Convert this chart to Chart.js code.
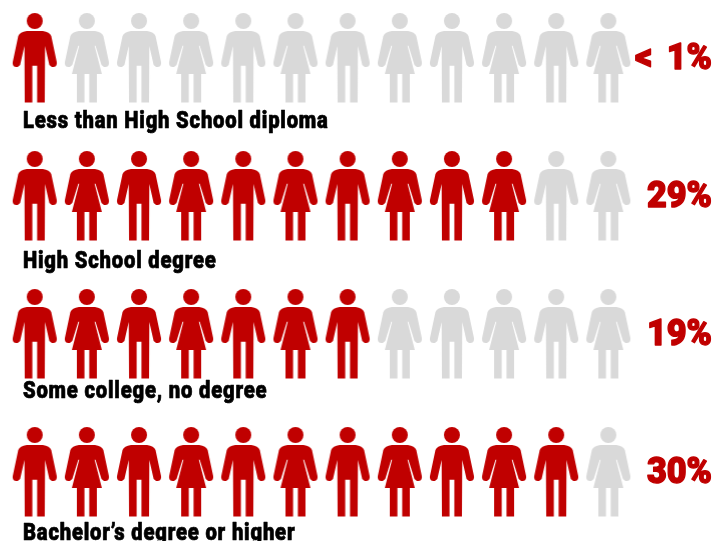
<!DOCTYPE html>
<html>
<head>
<meta charset="utf-8">
<style>
  html, body { margin: 0; padding: 0; background: #fff; }
  canvas { display: block; }
</style>
<script src="https://cdn.jsdelivr.net/npm/chart.js@4"></script>
</head>
<body>
<canvas id="chart" width="728" height="541"></canvas>
<script>
const categories = ['Less than High School diploma', 'High School degree', 'Some college, no degree', "Bachelor\u2019s degree or higher"]
const shares     = ['< 1%', '29%', '19%', '30%']
const filled     = [1, 10, 7, 11]
const perRow     = 12

const RED  = '#c00000'
const GREY = '#d9d9d9'

// label baselines below each row of people, they are not evenly spaced
const labelShift = [69, 71, 63, 67]

// one person, drawn once per colour and used as a point style
function person(color, woman) {
    const c = document.createElement('canvas')
    c.width = 48
    c.height = 92
    const g = c.getContext('2d')
    g.translate(24, 0)
    g.fillStyle = color
    g.beginPath()
    g.arc(0, 8, 8, 0, Math.PI * 2)
    g.fill()

    // one half of the body, mirrored
    for (const s of [-1, 1]) {
        g.beginPath()
        g.moveTo(0, 18)
        g.lineTo(s * 8, 18)
        g.quadraticCurveTo(s * 15, 19, s * 16.5, 23)
        g.lineTo(s * 22, 49)
        g.arc(s * 18.2, 50.2, 3.9, s > 0 ? 0.1 : Math.PI - 0.1, Math.PI / 2 + s * 0.3, s < 0)
        g.lineTo(s * 14.6, 52)
        if (woman) {
            g.lineTo(s * 8.6, 32.7)
            g.lineTo(s * 7.7, 32.7)
            g.lineTo(s * 15, 61)
            g.lineTo(s * 10, 61)
            g.lineTo(s * 10, 89.5)
            g.lineTo(s * 2.4, 89.5)
            g.lineTo(s * 2.4, 61)
            g.lineTo(0, 61)
        } else {
            g.lineTo(s * 10.3, 33)
            g.lineTo(s * 10, 89.5)
            g.lineTo(s * 2.4, 89.5)
            g.lineTo(s * 2.4, 52.7)
            g.lineTo(0, 52.7)
        }
        g.closePath()
        g.fill()
    }
    return c
}

const icons = {
    man:   { on: person(RED, false), off: person(GREY, false) },
    woman: { on: person(RED, true),  off: person(GREY, true) }
}

const datasets = categories.map((name, row) => ({
    label: name,
    data: Array.from({ length: perRow }, (_, i) => ({ x: i + 1, y: row })),
    pointStyle: ctx => {
        const kind = ctx.dataIndex % 2 ? icons.woman : icons.man
        return ctx.dataIndex < filled[row] ? kind.on : kind.off
    },
    showLine: false
}))

// condensed heavy text, there is no such font installed so it gets squeezed
function squeezed(ctx, text, x, y, squeeze, weight) {
    ctx.save()
    ctx.translate(x, y)
    ctx.scale(squeeze, 1)
    ctx.lineWidth = weight
    ctx.lineJoin = 'round'
    ctx.fillText(text, 0, 0)
    ctx.strokeText(text, 0, 0)
    ctx.restore()
}

const rowText = {
    id: 'rowText',
    afterDatasetsDraw(chart) {
        const { ctx, scales } = chart
        ctx.save()
        ctx.textBaseline = 'alphabetic'
        categories.forEach((name, row) => {
            const y = scales.y.getPixelForValue(row)
            ctx.fillStyle = ctx.strokeStyle = '#000'
            ctx.textAlign = 'left'
            ctx.font = '900 24px Roboto'
            ctx.letterSpacing = '0.94px'
            squeezed(ctx, name, 23, y + labelShift[row], 0.843, 0.7)

            ctx.fillStyle = ctx.strokeStyle = RED
            ctx.textAlign = 'right'
            ctx.font = '900 36px Roboto'
            ctx.letterSpacing = '0px'
            ctx.wordSpacing = '6px'
            squeezed(ctx, shares[row], 712, y + 10, 0.95, 1.4)
            ctx.wordSpacing = '0px'
        })
        ctx.restore()
    }
}

new Chart(document.getElementById('chart'), {
    type: 'scatter',
    data: { datasets },
    plugins: [rowText],
    options: {
        responsive: false,
        animation: false,
        events: [],
        layout: { padding: 0, autoPadding: false },
        plugins: { legend: { display: false }, tooltip: { enabled: false } },
        scales: {
            x: { display: false, min: 0.3346, max: 14.294 },
            y: { display: false, reverse: true, min: -0.4275, max: 3.4928 }
        }
    }
})
</script>
</body>
</html>
